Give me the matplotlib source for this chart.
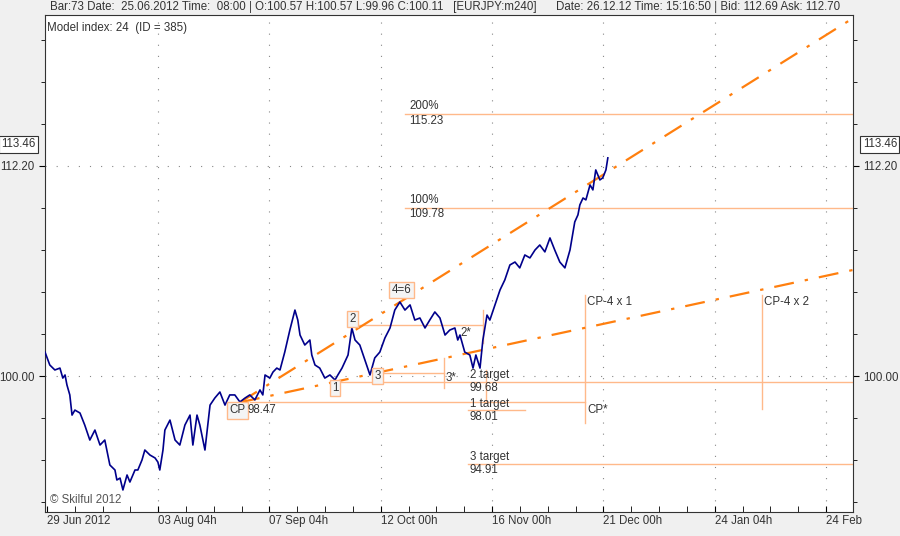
import matplotlib
matplotlib.use('Agg')
import matplotlib.pyplot as plt
from matplotlib.ticker import FixedLocator, NullFormatter

plt.rcParams['font.family'] = 'Liberation Sans'

# price path (days since 29 Jun 2012, EURJPY)
DAYS = [-0.6, 0.9, 2.5, 4.1, 5.0, 5.7, 6.3, 7.2, 7.9, 8.8, 10.4, 11.9, 13.5, 15.1, 16.7,
        18.2, 19.8, 21.4, 22.0, 23.0, 23.9, 25.2, 26.1, 27.7, 28.6, 29.9, 30.8, 32.4, 34.0,
        34.9, 35.5, 36.5, 37.1, 38.7, 40.3, 41.8, 43.4, 45.0, 45.9, 47.2, 48.1, 49.7, 51.3,
        52.8, 54.4, 56.0, 57.5, 59.1, 60.7, 62.3, 63.8, 65.4, 67.0, 67.9, 68.6, 70.1, 71.1,
        72.3, 73.3, 74.8, 76.4, 78.0, 78.9, 79.6, 81.1, 82.7, 83.3, 84.3, 85.8, 87.4, 89.0,
        90.6, 91.5, 92.8, 94.7, 95.9, 96.9, 98.4, 100.0, 101.6, 102.2, 103.1, 104.7, 106.3,
        107.9, 109.4, 111.0, 112.6, 114.2, 115.7, 117.3, 118.9, 120.4, 122.0, 123.6, 125.2,
        126.7, 128.3, 129.2, 129.9, 131.4, 133.0, 134.0, 134.9, 136.2, 137.1, 138.4, 139.3,
        140.9, 142.5, 144.0, 145.6, 147.2, 148.7, 150.3, 151.9, 153.5, 155.0, 156.6, 158.2,
        159.7, 161.3, 162.9, 164.5, 166.0, 167.0, 167.6, 168.6, 169.5, 170.8, 171.7, 172.6,
        173.9, 174.8, 175.8, 176.4]
PRICES = [101.39, 100.64, 100.35, 100.46, 99.88, 100.06, 99.48, 98.90, 97.73, 98.02, 97.85,
          97.15, 96.28, 96.86, 95.99, 96.28, 94.83, 94.54, 93.96, 94.07, 93.38, 94.25, 93.84,
          94.54, 94.54, 95.12, 95.70, 95.41, 95.24, 95.00, 94.54, 95.70, 96.86, 97.44, 96.28,
          95.99, 97.15, 97.73, 95.99, 97.73, 97.15, 95.70, 98.31, 98.72, 99.07, 98.31, 98.90,
          98.90, 98.49, 98.72, 98.90, 98.61, 99.19, 98.90, 100.06, 99.88, 100.23, 100.46,
          100.35, 101.39, 102.67, 103.83, 103.25, 102.38, 101.80, 102.09, 101.22, 100.64,
          100.46, 99.88, 100.06, 99.77, 100.06, 100.46, 101.22, 102.79, 102.09, 101.80, 100.93,
          100.06, 100.46, 101.05, 101.39, 102.21, 102.79, 103.83, 104.30, 103.83, 104.13,
          103.25, 103.37, 102.79, 103.25, 103.72, 103.37, 102.38, 102.67, 102.79, 102.09,
          102.38, 101.39, 101.22, 100.46, 101.22, 100.46, 102.09, 103.54, 103.25, 104.13,
          105.00, 105.58, 106.45, 106.62, 106.28, 107.03, 106.86, 107.32, 107.61, 107.21,
          108.02, 107.32, 106.62, 106.28, 107.32, 108.95, 109.36, 109.94, 110.34, 110.23,
          111.10, 110.81, 111.97, 111.39, 111.51, 111.97, 112.67]

# trend lines from the CP point
CP_DAY, CP_PRICE = 60.7, 98.47
UPPER_END = (253.1, 120.74)
LOWER_END = (253.5, 106.16)

# horizontal levels: (price, x start, x end)
LEVELS = [(115.23, 112.6, 253.5), (109.78, 112.6, 253.5), (99.68, 90.6, 253.5),
          (98.47, 63.8, 169.2), (98.01, 132.4, 150.3), (94.91, 132.4, 253.5),
          (102.96, 95.9, 137.1), (100.17, 104.1, 124.8)]
# vertical markers: (day, price low, price high)
VERTS = [(124.8, 99.30, 101.05), (137.1, 101.93, 103.83), (138.1, 98.55, 100.35),
         (169.2, 97.27, 104.71), (224.8, 98.07, 104.71)]

XTICKS = [0, 35, 70, 105, 140, 175, 210, 245]
XLABELS = ['29 Jun 2012', '03 Aug 04h', '07 Sep 04h', '12 Oct 00h', '16 Nov 00h',
           '21 Dec 00h', '24 Jan 04h', '24 Feb']
YTICKS = [100.00, 112.20]

ORANGE = '#FF7F0E'
LIGHT = '#FFB98A'
NAVY = '#00008B'
TXT = '#333333'

fig = plt.figure(figsize=(9, 5.36), dpi=100, facecolor='#F0F0F0')
ax = fig.add_axes([45 / 900, 1 - 512 / 536, 808 / 900, 497 / 536])
ax.set_facecolor('white')
ax.set_xlim(-0.6, 253.5)
ax.set_ylim(92.1, 120.97)

for xt in XTICKS[1:]:
    ax.axvline(xt, color='#888888', ls=(0, (1, 9)), lw=0.8, zorder=0)
for yt in YTICKS:
    ax.axhline(yt, color='#888888', ls=(0, (1, 9)), lw=0.8, zorder=0)

for price, x0, x1 in LEVELS:
    ax.plot([x0, x1], [price, price], color=LIGHT, lw=1, zorder=1)
for d, p0, p1 in VERTS:
    ax.plot([d, d], [p0, p1], color=LIGHT, lw=1, zorder=1)

ax.plot([CP_DAY, UPPER_END[0]], [CP_PRICE, UPPER_END[1]], color=ORANGE, lw=1.6,
        ls=(0, (9, 5, 1.5, 5)), zorder=2)
ax.plot([CP_DAY, LOWER_END[0]], [CP_PRICE, LOWER_END[1]], color=ORANGE, lw=1.6,
        ls=(0, (9, 5, 1.5, 5)), zorder=2)

ax.plot(DAYS, PRICES, color=NAVY, lw=1.2, zorder=3)

fs = 8.3
box = dict(boxstyle='square,pad=0.2', fc='#F4F4F4', ec=LIGHT, lw=1)
for lbl, d, p in [('1', 90.6, 99.3), ('2', 96.2, 103.3), ('3', 104.1, 100.0),
                  ('4=6', 111.5, 105.0), ('CP', 60.0, 98.0)]:
    ax.text(d, p, lbl, fontsize=fs, color=TXT, ha='center', va='center', bbox=box, zorder=4)
ax.text(63.0, 98.0, '98.47', fontsize=fs, color=TXT, va='center', zorder=4)
ax.text(130.0, 102.5, '2*', fontsize=fs, color=TXT, va='center')
ax.text(125.5, 99.9, '3*', fontsize=fs, color=TXT, va='center')

for top, bottom, p in [('200%', '115.23', 115.23), ('100%', '109.78', 109.78)]:
    ax.text(114.0, p + 0.1, top, fontsize=fs, color=TXT, va='bottom')
    ax.text(114.0, p - 0.05, bottom, fontsize=fs, color=TXT, va='top')
for top, bottom, p in [('2 target', '99.68', 99.68), ('1 target', '98.01', 98.01),
                       ('3 target', '94.91', 94.91)]:
    ax.text(133.0, p + 0.02, top, fontsize=fs, color=TXT, va='bottom')
    ax.text(133.0, p - 0.05, bottom, fontsize=fs, color=TXT, va='top')
ax.text(170.0, 104.3, 'CP-4 x 1', fontsize=fs, color=TXT, va='center')
ax.text(170.0, 98.0, 'CP*', fontsize=fs, color=TXT, va='center')
ax.text(225.6, 104.3, 'CP-4 x 2', fontsize=fs, color=TXT, va='center')

ax.text(0.003, 0.985, 'Model index: 24  (ID = 385)', transform=ax.transAxes,
        fontsize=fs, color=TXT, va='top')
ax.text(0.006, 0.012, '\u00a9 Skilful 2012', transform=ax.transAxes,
        fontsize=fs, color='#555555', va='bottom')

ax.set_xticks(XTICKS)
ax.set_xticklabels(XLABELS, fontsize=fs, color=TXT, ha='left')
ax.xaxis.set_minor_locator(FixedLocator([t + k * 8.75 for t in XTICKS for k in (1, 2, 3)]))
ax.tick_params(axis='x', which='both', direction='in', length=4, pad=2, top=False)
ax.set_yticks(YTICKS)
ax.set_yticklabels(['100.00', '112.20'], fontsize=fs, color=TXT)
ax.yaxis.set_minor_locator(FixedLocator([112.20 + k * 2.44 for k in range(-8, 4)]))
ax.yaxis.set_minor_formatter(NullFormatter())
ax.tick_params(axis='y', which='both', left=True, right=True, labelleft=True,
               labelright=True, length=4, direction='out')
ax.tick_params(axis='y', which='minor', length=3)
for s in ax.spines.values():
    s.set_color('#333333')
    s.set_linewidth(0.8)

# current price boxes on both axes
pbox = dict(boxstyle='square,pad=0.2', fc='white', ec='#333333', lw=0.8)
ax.text(-0.012, 113.46, '113.46', transform=ax.get_yaxis_transform(), fontsize=fs,
        color=TXT, ha='right', va='center', bbox=pbox)
ax.text(1.012, 113.46, '113.46', transform=ax.get_yaxis_transform(), fontsize=fs,
        color=TXT, ha='left', va='center', bbox=pbox)

fig.text(50 / 900, 1 - 7 / 536,
         'Bar:73 Date:  25.06.2012 Time:  08:00 | O:100.57 H:100.57 L:99.96 C:100.11   [EURJPY:m240]',
         fontsize=fs, color=TXT, va='center')
fig.text(840 / 900, 1 - 7 / 536,
         'Date: 26.12.12 Time: 15:16:50 | Bid: 112.69 Ask: 112.70',
         fontsize=fs, color=TXT, va='center', ha='right')

fig.savefig('out.png', dpi=100, facecolor=fig.get_facecolor())
